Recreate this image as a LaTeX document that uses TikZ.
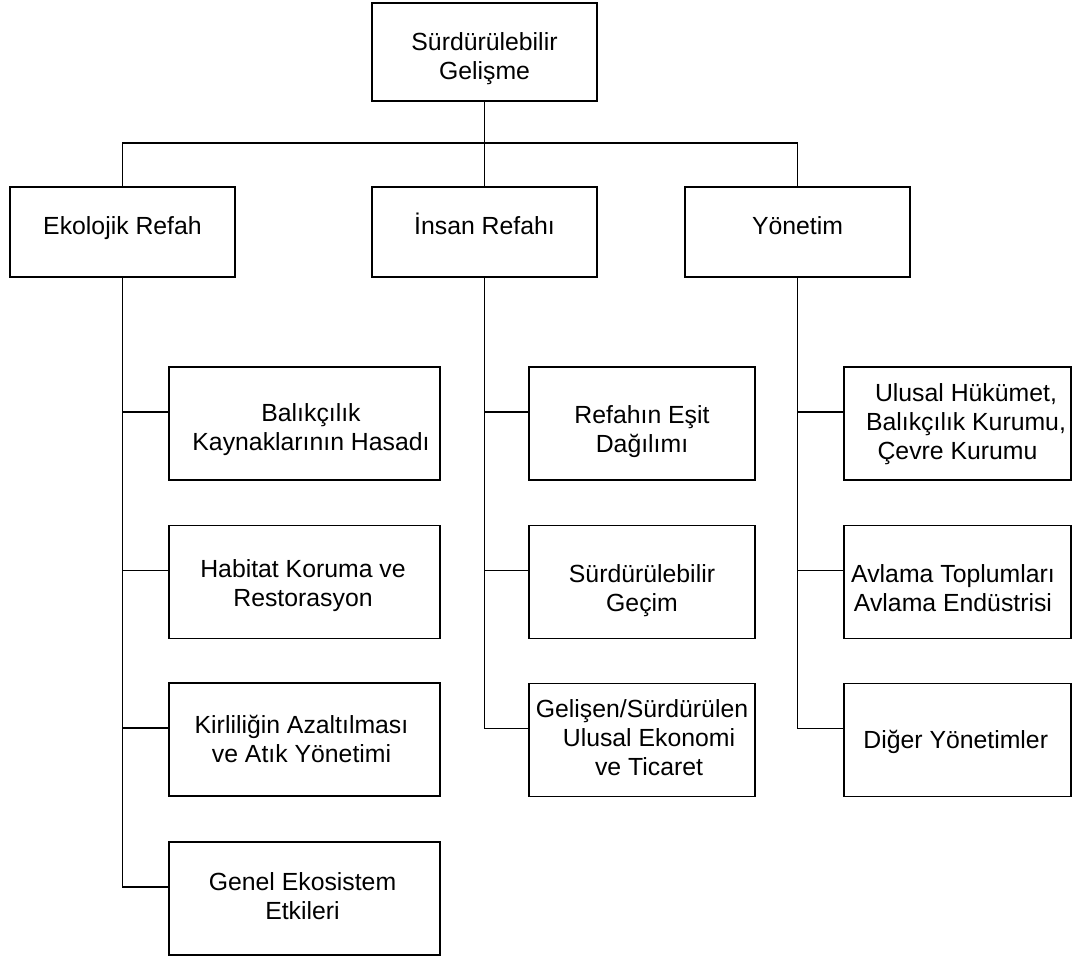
\documentclass[tikz,border=0pt]{standalone}
\usepackage{fontspec}
\setmainfont{Liberation Sans}
\newcommand{\tb}[3]{\raisebox{#2}[0pt][0pt]{\kern#1\begin{tabular}[t]{@{}c@{}}#3\end{tabular}}}
\begin{document}
\begin{tikzpicture}[x=1pt,y=-1pt,
  bx/.style={draw=black, line width=1.8pt, inner sep=0pt, rectangle,
             font=\fontsize{24.8}{29}\selectfont},
  lv2/.style={bx, minimum width=225pt, minimum height=90pt},
  ecoc/.style={bx, minimum width=271pt, minimum height=113pt},
  insc/.style={bx, minimum width=226pt, minimum height=113pt},
  yonc/.style={bx, minimum width=227pt, minimum height=113pt},
  ln/.style={draw=black, line width=1.8pt}]
\useasboundingbox (0,0) rectangle (1072,956);

% top
\node[bx, minimum width=225pt, minimum height=98pt] (top) at (484.5,52) {\tb{0pt}{2pt}{Sürdürülebilir\\Gelişme}};

% level 2
\node[lv2] (eco) at (122.5,232) {\tb{0pt}{-2pt}{Ekolojik Refah}};
\node[lv2] (ins) at (484.5,232) {\tb{0pt}{-2pt}{İnsan Refahı}};
\node[lv2] (yon) at (797.5,232) {\tb{0pt}{-2pt}{Yönetim}};

% Ekolojik children
\node[ecoc] (e1) at (304.5,423.5) {\tb{13pt}{2pt}{Balıkçılık\\Kaynaklarının Hasadı}};
\node[ecoc] (e2) at (304.5,582) {\tb{-3pt}{5pt}{Habitat Koruma ve\\Restorasyon}};
\node[ecoc] (e3) at (304.5,739.5) {\tb{-6pt}{6.5pt}{Kirliliğin Azaltılması\\ve Atık Yönetimi}};
\node[ecoc] (e4) at (304.5,898.5) {\tb{-4pt}{8pt}{Genel Ekosistem\\Etkileri}};

% Insan children
\node[insc] (i1) at (642,423.5) {\tb{0pt}{0pt}{Refahın Eşit\\Dağılımı}};
\node[insc] (i2) at (642,582) {\tb{0pt}{0pt}{Sürdürülebilir\\Geçim}};
\node[insc] (i3) at (642,740) {\tb{0pt}{23pt}{Gelişen/Sürdürülen\\\hspace*{14pt}Ulusal Ekonomi\\\hspace*{14pt}ve Ticaret}};

% Yonetim children
\node[yonc] (y1) at (957.5,423.5) {\tb{0pt}{22pt}{\hspace*{17pt}Ulusal Hükümet,\\\hspace*{17pt}Balıkçılık Kurumu,\\Çevre Kurumu}};
\node[yonc] (y2) at (957.5,582) {\tb{-9pt}{0pt}{Avlama Toplumları\\Avlama Endüstrisi}};
\node[yonc] (y3) at (957.5,740) {\tb{-3.5pt}{-8pt}{Diğer Yönetimler}};

% top connectors
\coordinate (bus) at (484.5,143);
\draw[ln] (top.south) -- (bus);
\draw[ln] (eco.north) |- (bus) -| (yon.north);
\draw[ln] (bus) -- (ins.north);

% branch points
\foreach \n in {e1,e2,e3,e4,i1,i2,i3,y1,y2,y3}{
  \coordinate (\n c) at ([yshift=11.5pt]\n.west);
}
\draw[ln] (eco.south) |- (e4c);
\draw[ln] (eco.south |- e1c) -- (e1c);
\draw[ln] (eco.south |- e2c) -- (e2c);
\draw[ln] (eco.south |- e3c) -- (e3c);

\draw[ln] (ins.south) |- (i3c);
\draw[ln] (ins.south |- i1c) -- (i1c);
\draw[ln] (ins.south |- i2c) -- (i2c);

\draw[ln] (yon.south) |- (y3c);
\draw[ln] (yon.south |- y1c) -- (y1c);
\draw[ln] (yon.south |- y2c) -- (y2c);
\end{tikzpicture}
\end{document}
